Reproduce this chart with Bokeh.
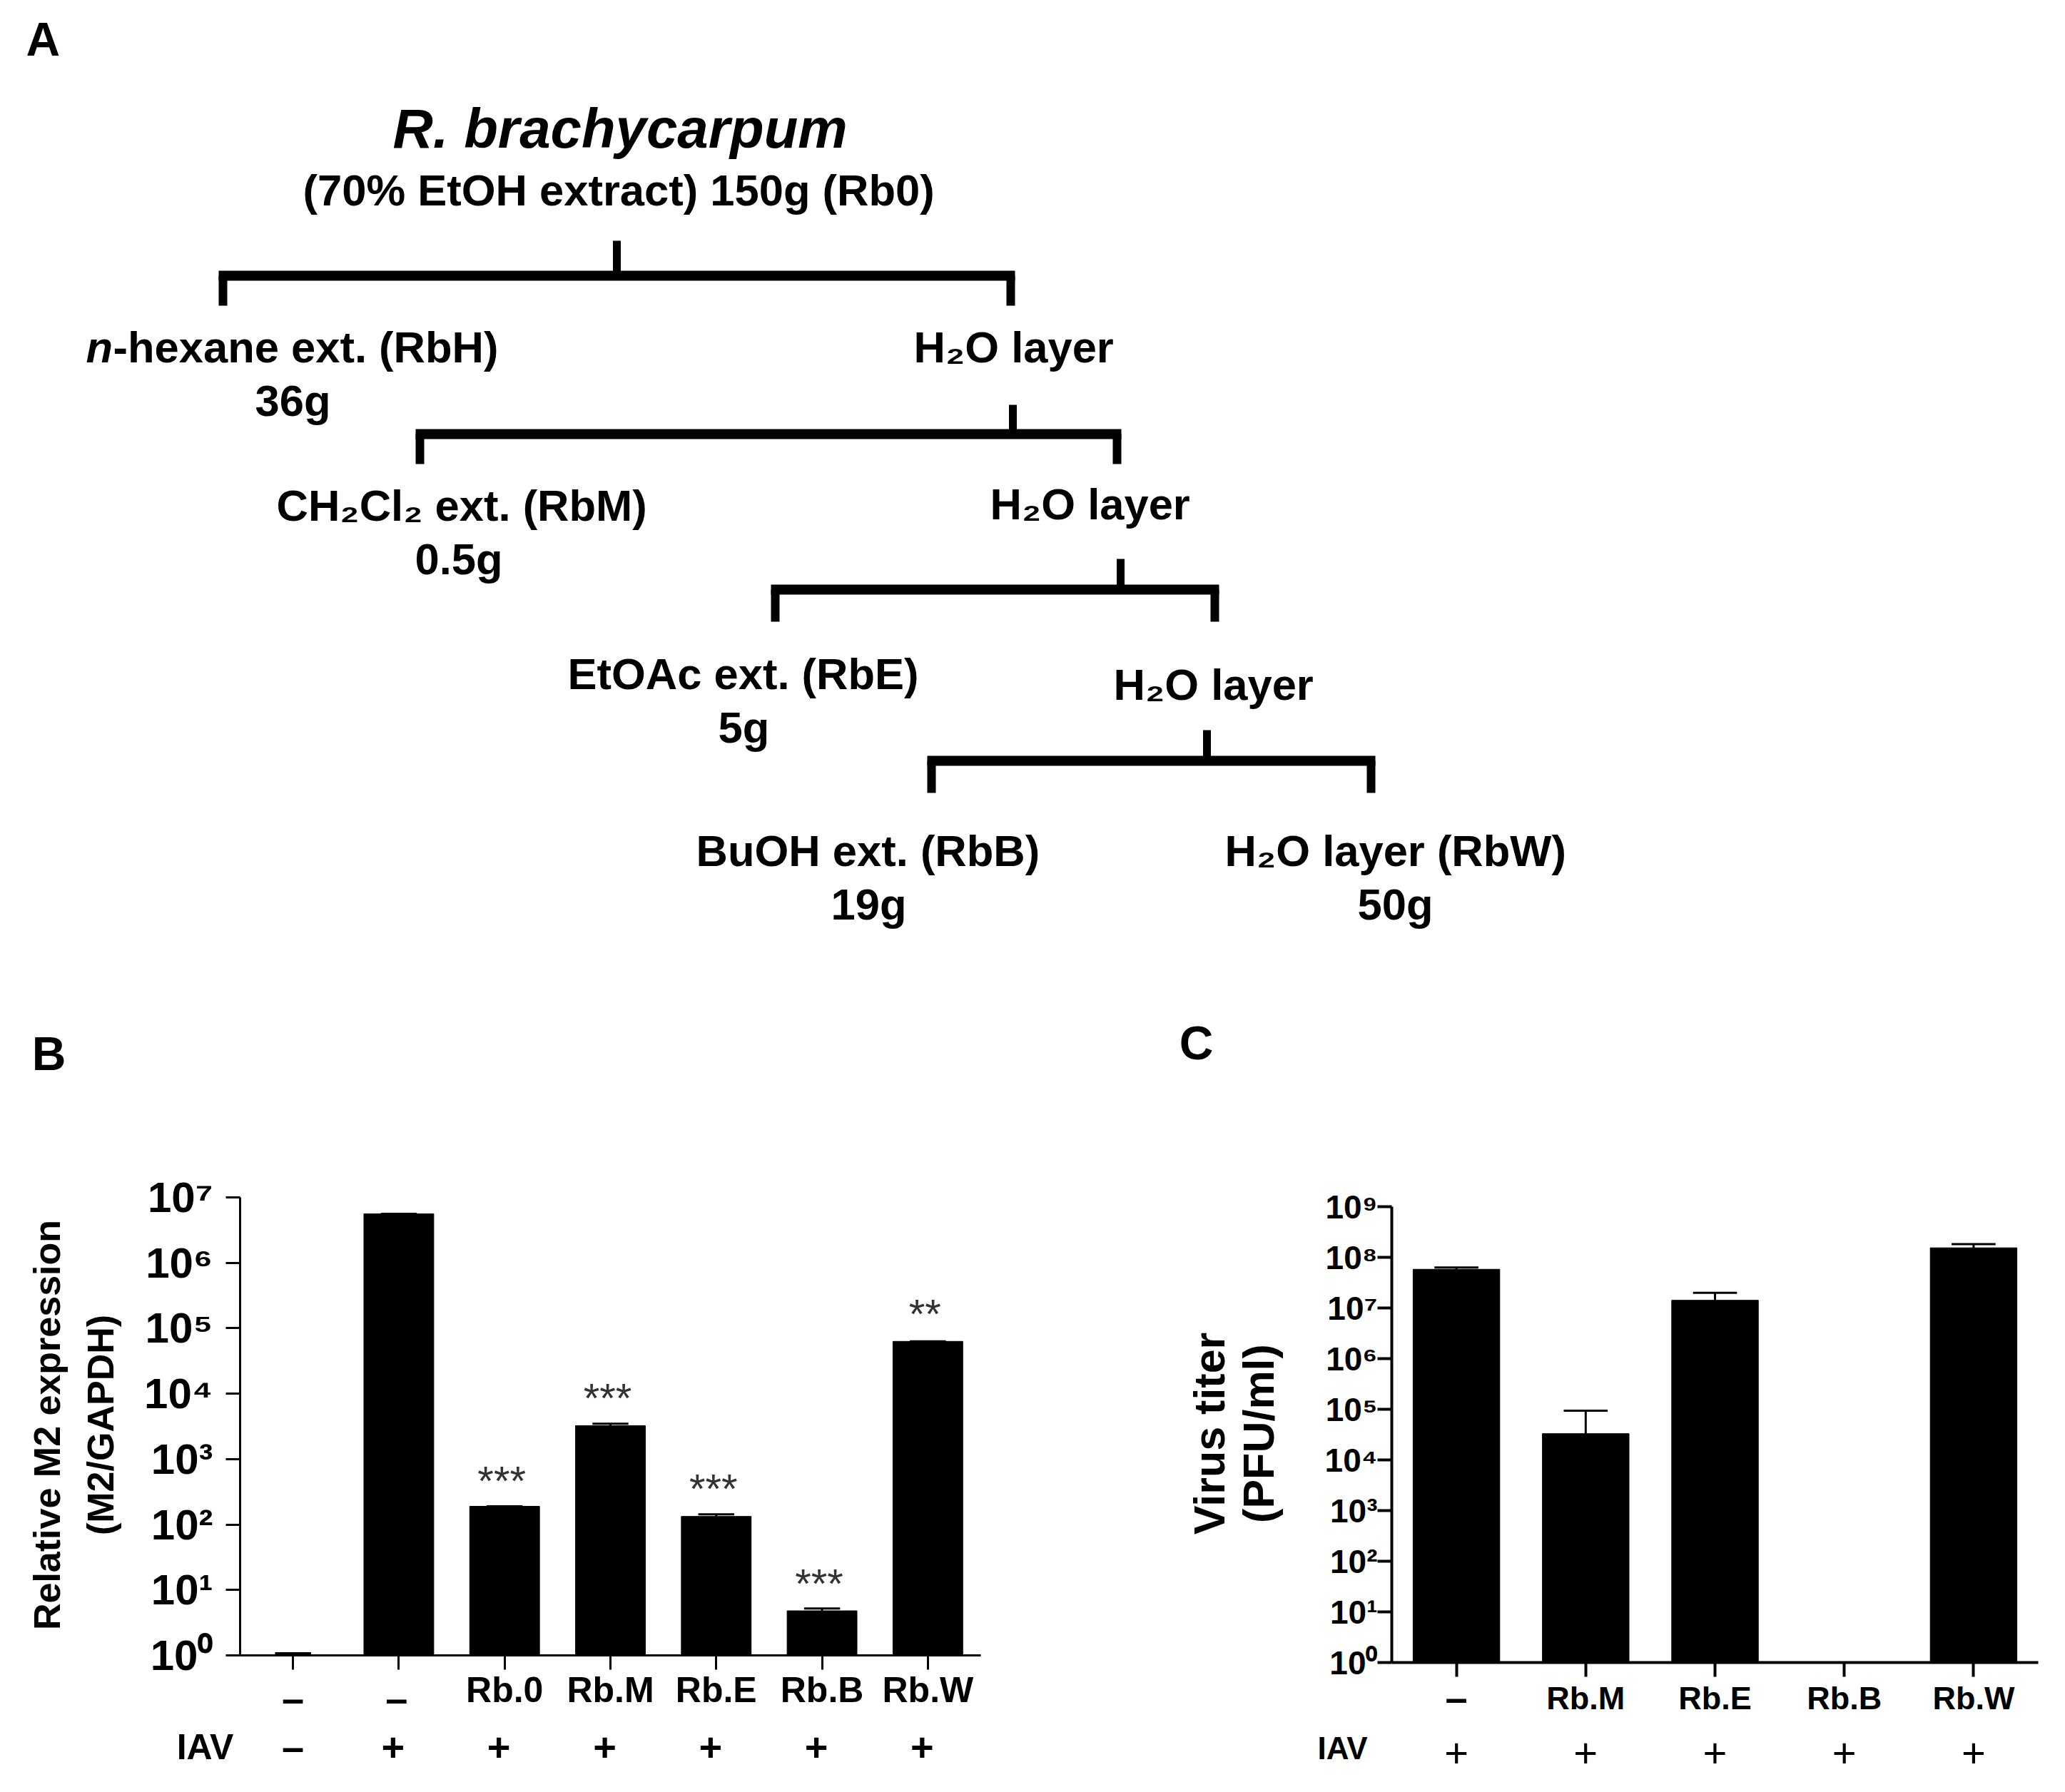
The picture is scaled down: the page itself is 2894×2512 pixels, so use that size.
import numpy as np

from bokeh.core.properties import value
from bokeh.embed import file_html
from bokeh.layouts import column, row
from bokeh.models import FixedTicker, Label
from bokeh.plotting import figure
from bokeh.resources import INLINE

FONT = "Liberation Sans"

# panel B data
b_labels = ["", "", "Rb.0", "Rb.M", "Rb.E", "Rb.B", "Rb.W"]
b_values = [1.0, 5600000, 190, 3240, 133, 4.8, 63000]
b_upper = [1.08, 5600000, 190, 3480, 143, 5.2, 63000]
b_treat = ["–", "–", "", "", "", "", ""]
b_iav = ["–", "+", "+", "+", "+", "+", "+"]
b_star_text = ["***", "***", "***", "***", "**"]
b_star_x = [2, 3, 4, 5, 6]
b_star_y = [550, 10000, 415, 14.8, 195000]
b_ticks = [1, 10, 100, 1000, 10000, 100000, 1000000, 10000000]
b_tick_labels = ["10⁰", "10¹", "10²", "10³", "10⁴", "10⁵", "10⁶", "10⁷"]

# panel C data
c_labels = ["", "Rb.M", "Rb.E", "Rb.B", "Rb.W"]
c_values = [58000000, 33000, 14200000, 1, 154000000]
c_upper = [63000000, 94000, 20000000, 1, 182000000]
c_treat = ["–", "", "", "", ""]
c_iav = ["+", "+", "+", "+", "+"]
c_ticks = [1, 10, 100, 1000, 10000, 100000, 1000000, 10000000, 100000000, 1000000000]
c_tick_labels = ["10⁰", "10¹", "10²", "10³", "10⁴", "10⁵", "10⁶", "10⁷", "10⁸", "10⁹"]

# scheme in panel A: text, left x, baseline y, all in page pixels
scheme_text = ["-hexane ext. (RbH)", "36g", "H₂O layer",
               "CH₂Cl₂ ext. (RbM)", "0.5g", "H₂O layer",
               "EtOAc ext. (RbE)", "5g", "H₂O layer",
               "BuOH ext. (RbB)", "19g", "H₂O layer (RbW)", "50g"]
scheme_x = [158, 357, 1280, 387, 581, 1387, 795, 1006, 1560, 975, 1164, 1716, 1902]
scheme_y = [486, 561, 486, 708, 783, 706, 944, 1019, 959, 1192, 1267, 1192, 1267]

# brackets in panel A: stem x, stem top, bar y, left drop x, right drop x, drop bottom
stem_x = [864, 1419, 1570, 1691]
stem_top = [337, 567, 783, 1023]
bar_y = [386, 608, 826, 1066]
left_x = [312, 588, 1086, 1305]
right_x = [1416, 1565, 1702, 1921]
drop_end = [428, 650, 871, 1111]

# page y where the lower row starts
row_top = 1400
c_left = 1540

top = figure(width=2894, height=row_top, x_range=(0, 2894), y_range=(row_top, 0),
             output_backend="svg", toolbar_location=None, min_border=0)
top.axis.visible = False
top.grid.visible = False
top.outline_line_color = None

top.segment(stem_x, stem_top, stem_x, bar_y, line_color="black", line_width=11)
top.segment(np.array(left_x) - 6, bar_y, np.array(right_x) + 6, bar_y, line_color="black", line_width=14)
top.segment(left_x, bar_y, left_x, drop_end, line_color="black", line_width=12)
top.segment(right_x, bar_y, right_x, drop_end, line_color="black", line_width=12)

top.text(scheme_x, scheme_y, text=scheme_text, text_font=value(FONT), text_font_style="bold",
         text_font_size="61.5px", text_color="black", text_baseline="alphabetic")
top.text([120], [486], text=["n"], text_font=value(FONT), text_font_style="bold italic",
         text_font_size="61.5px", text_color="black", text_baseline="alphabetic")
top.text([550], [179], text=["R. brachycarpum"], text_font=value(FONT), text_font_style="bold italic",
         text_font_size="78px", text_color="black", text_baseline="alphabetic")
top.text([424], [266], text=["(70% EtOH extract) 150g (Rb0)"], text_font=value(FONT), text_font_style="bold",
         text_font_size="61.5px", text_color="black", text_baseline="alphabetic")
top.text([36], [54], text=["A"], text_font=value(FONT), text_font_style="bold",
         text_font_size="66px", text_color="black", text_baseline="alphabetic")


def bar_panel(x0, y0, width, height, axis_left, axis_right, axis_top, axis_bottom, ticks, tick_labels,
              labels, values, errs, axis_width, tick_size, label_size, y_standoff, x_standoff, bar_width):
    # the frame fills the figure and the axes sit at fixed spots inside it, so all texts around them show
    n = len(values)
    ux = (axis_right - axis_left) / n
    decades = np.log10(ticks[-1])
    uy = (axis_bottom - axis_top) / decades
    x_start = -0.5 - (axis_left - x0) / ux
    y_high = 10 ** (decades + (axis_top - y0) / uy)
    y_low = 10 ** (-(y0 + height - axis_bottom) / uy)
    p = figure(width=width, height=height, x_range=(x_start, x_start + width / ux), y_axis_type="log",
               y_range=(y_low, y_high), output_backend="svg", toolbar_location=None, min_border=0)
    p.grid.visible = False
    p.outline_line_color = None
    xs = list(range(n))
    p.vbar(x=xs, top=values, bottom=1, width=bar_width, fill_color="black", line_color="black")
    p.segment(xs, values, xs, errs, line_color="black", line_width=3)
    p.segment(np.array(xs) - 0.17, errs, np.array(xs) + 0.17, errs, line_color="black", line_width=3)

    p.yaxis.fixed_location = -0.5
    p.yaxis.bounds = (ticks[0], ticks[-1])
    p.yaxis.ticker = FixedTicker(ticks=ticks)
    p.yaxis.major_label_overrides = dict(zip(ticks, tick_labels))
    p.yaxis.major_label_text_font = FONT
    p.yaxis.major_label_text_font_style = "bold"
    p.yaxis.major_label_text_font_size = tick_size
    p.yaxis.major_label_text_color = "black"
    p.yaxis.major_label_standoff = y_standoff
    p.yaxis.minor_tick_line_color = None

    p.xaxis.fixed_location = ticks[0]
    p.xaxis.bounds = (-0.5, n - 0.5)
    p.xaxis.ticker = FixedTicker(ticks=xs)
    p.xaxis.major_label_overrides = dict(zip(xs, labels))
    p.xaxis.major_label_text_font = FONT
    p.xaxis.major_label_text_font_style = "bold"
    p.xaxis.major_label_text_font_size = label_size
    p.xaxis.major_label_text_color = "black"
    p.xaxis.major_label_standoff = x_standoff
    p.xaxis.minor_tick_line_color = None

    for ax in (p.xaxis, p.yaxis):
        ax.axis_line_color = "black"
        ax.axis_line_width = axis_width
        ax.major_tick_line_color = "black"
        ax.major_tick_line_width = axis_width
        ax.major_tick_in = 0
        ax.major_tick_out = 20
    return p


def note(p, text, x, y, size, angle=0, style="bold", x_units="canvas", x_offset=0):
    # y is down from the top of the figure
    p.add_layout(Label(x=x, y=y, x_units=x_units, y_units="canvas", x_offset=x_offset, text=text, angle=angle,
                       text_font=FONT, text_font_style=style, text_font_size=size, text_color="black",
                       text_align="center", text_baseline="middle"))


b = bar_panel(0, row_top, c_left, 1110, 336, 1374, 1678, 2320, b_ticks, b_tick_labels, b_labels, b_values, b_upper,
              3, "60px", "50px", 18, 0, 0.66)
b.text(b_star_x, b_star_y, text=b_star_text, x_offset=-4, y_offset=6, text_font=value(FONT),
       text_font_size="58px", text_color="#333333", text_align="center", text_baseline="middle")
for i, s in enumerate(b_treat):
    if s:
        note(b, s, i, 2380 - row_top, "56px", x_units="data", x_offset=-3 * i)
for i, s in enumerate(b_iav):
    note(b, s, i, 2448 - row_top, "56px", x_units="data", x_offset=-8 if i else 0)
note(b, "IAV", 287, 2448 - row_top, "50px")
note(b, "B", 68, 1476 - row_top, "66px")
note(b, "Relative M2 expression", 65, 1997 - row_top, "52px", angle=np.pi / 2)
note(b, "(M2/GAPDH)", 140, 1997 - row_top, "52px", angle=np.pi / 2)

c = bar_panel(c_left, row_top, 1350, 1110, 1950, 2856, 1691, 2330, c_ticks, c_tick_labels, c_labels, c_values, c_upper,
              4, "46px", "45px", 0, 4, 0.67)
for i, s in enumerate(c_treat):
    if s:
        note(c, s, i, 2379 - row_top, "56px", x_units="data")
for i, s in enumerate(c_iav):
    note(c, s, i, 2456 - row_top, "58px", style="normal", x_units="data")
note(c, "IAV", 1881 - c_left, 2450 - row_top, "44px")
note(c, "C", 1676 - c_left, 1461 - row_top, "66px")
note(c, "Virus titer", 1694 - c_left, 2009 - row_top, "61px", angle=np.pi / 2)
note(c, "(PFU/ml)", 1763 - c_left, 2009 - row_top, "61px", angle=np.pi / 2)

page = column(top, row(b, c))
open("out.html", "w").write(file_html(page, INLINE))
